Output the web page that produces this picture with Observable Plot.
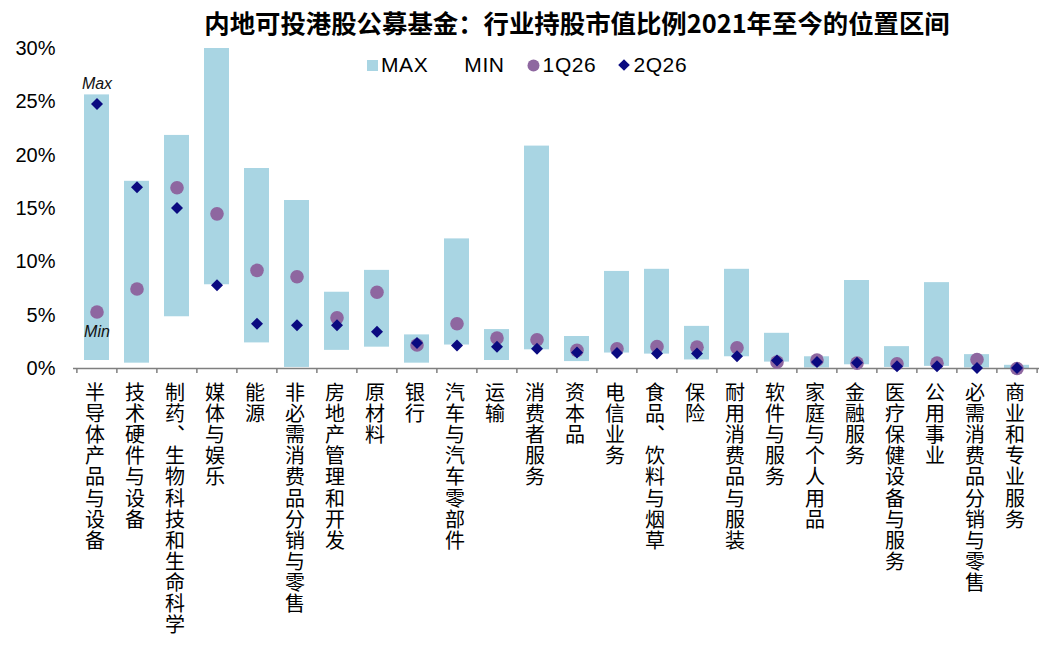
<!DOCTYPE html>
<html>
<head>
<meta charset="utf-8">
<script src="https://cdn.jsdelivr.net/npm/d3@7"></script>
<script src="https://cdn.jsdelivr.net/npm/@observablehq/plot@0.6"></script>
<style>
html,body{margin:0;padding:0;background:#fff;overflow:hidden;}
#wrap{position:relative;width:1061px;height:652px;}
#title{position:absolute;left:577px;top:6px;transform:translateX(-50%);white-space:nowrap;
  font-family:"Noto Sans CJK SC","Liberation Sans",sans-serif;font-weight:bold;font-size:25.4px;line-height:32px;color:#000;}
#legend{position:absolute;left:367px;top:52px;display:flex;align-items:center;white-space:nowrap;
  font-family:"Liberation Sans",Arial,sans-serif;font-size:21px;letter-spacing:0.6px;line-height:26px;color:#000;}
#legend .sw{display:inline-block;width:11px;height:11px;margin-right:3px;}
#legend .gap{display:inline-block;width:22px;}
#legend svg{margin-right:3px;}
#chart{position:absolute;left:0;top:0;}
</style>
</head>
<body>
<div id="wrap">
  <div id="chart"></div>
  <div id="title">内地可投港股公募基金：行业持股市值比例2021年至今的位置区间</div>
  <div id="legend">
    <span class="sw" style="background:#A9D5E3"></span><span>MAX</span>
    <span class="gap"></span><span class="sw" style="background:transparent"></span><span>MIN</span>
    <span class="gap"></span><svg width="13" height="13" viewBox="-6.5 -6.5 13 13"><circle r="6" fill="#8E67A0"></circle></svg><span>1Q26</span>
    <span class="gap"></span><svg width="12" height="12" viewBox="-6 -6 12 12"><path d="M0,-5.8L5.8,0L0,5.8L-5.8,0Z" fill="#0A0A80"></path></svg><span>2Q26</span>
  </div>
</div>
<script>
const categories = ["半导体产品与设备","技术硬件与设备","制药、生物科技和生命科学","媒体与娱乐","能源","非必需消费品分销与零售","房地产管理和开发","原材料","银行","汽车与汽车零部件","运输","消费者服务","资本品","电信业务","食品、饮料与烟草","保险","耐用消费品与服装","软件与服务","家庭与个人用品","金融服务","医疗保健设备与服务","公用事业","必需消费品分销与零售","商业和专业服务"];
const maxValues = [25.65,17.55,21.85,30.0,18.75,15.75,7.15,9.2,3.15,12.15,3.65,20.85,3.0,9.1,9.3,3.95,9.3,3.3,1.1,8.25,2.05,8.05,1.3,0.3];
const minValues = [0.75,0.5,4.85,7.85,2.4,0.1,1.7,2.0,0.5,2.2,0.75,1.75,0.65,1.45,1.35,0.8,1.1,0.6,0.05,0.35,0.1,0.2,0.05,0.0];
const q1Values = [5.3,7.45,16.95,14.5,9.2,8.6,4.75,7.15,2.2,4.2,2.85,2.7,1.7,1.85,2.05,2.0,1.95,0.6,0.8,0.5,0.45,0.5,0.85,0.0];
const q2Values = [24.8,17.0,15.05,7.8,4.2,4.05,4.05,3.45,2.4,2.15,2.05,1.85,1.5,1.45,1.4,1.4,1.15,0.75,0.6,0.55,0.2,0.2,0.05,0.05];
const yTicks = [0,0.05,0.10,0.15,0.20,0.25,0.30];

const W = 1061, H = 652, mL = 73, mR = 22, mT = 48, mB = 284;
const step = (W - mL - mR) / categories.length;
const data = categories.map((c, i) => ({
  cat: c, max: maxValues[i] / 100, min: minValues[i] / 100, q1: q1Values[i] / 100, q2: q2Values[i] / 100
}));
const axisColor = "#7f7f7f";

const chart = Plot.plot({
  width: W, height: H,
  marginLeft: mL, marginRight: mR, marginTop: mT, marginBottom: mB,
  x: {domain: categories, type: "band", paddingInner: 0.38, paddingOuter: 0.19, label: null},
  y: {domain: [0, 0.3], label: null},
  style: {background: "transparent", overflow: "visible"},
  marks: [
    Plot.barY(data, {x: "cat", y1: "min", y2: "max", fill: "#A9D5E3"}),
    Plot.ruleY([0], {stroke: axisColor, strokeWidth: 1.5}),
    Plot.axisX(categories, {tickSize: 5, fill: "none", stroke: axisColor, strokeWidth: 1.5, dx: -step / 2, label: null}),
    Plot.axisX([categories[categories.length - 1]], {tickSize: 5, fill: "none", stroke: axisColor, strokeWidth: 1.5, dx: step / 2, label: null}),
    Plot.axisX({tickSize: 0, tickPadding: 14, dx: -2, fontSize: 20, fontFamily: "Noto Sans CJK SC", fill: "#000", label: null}),
    Plot.axisY({ticks: yTicks, tickFormat: d3.format(".0%"), tickSize: 0, tickPadding: 18,
      fontSize: 20, fontFamily: "Liberation Sans", fill: "#000", label: null}),
    Plot.dot(data, {x: "cat", y: "q1", r: 6.8, fill: "#8E67A0"}),
    Plot.dot(data, {x: "cat", y: "q2", r: 5.4, symbol: "diamond2", fill: "#0A0A80"}),
    Plot.text(["Max"], {x: [categories[0]], y: [maxValues[0] / 100], text: d => d, dy: -11,
      fontSize: 16, fontStyle: "italic", fontFamily: "Liberation Sans", fill: "#111"}),
    Plot.text(["Min"], {x: [categories[0]], y: [minValues[0] / 100], text: d => d, dy: -29,
      fontSize: 16, fontStyle: "italic", fontFamily: "Liberation Sans", fill: "#111"})
  ]
});
// Vertical (upright) CJK category labels
d3.select(chart).selectAll('g[aria-label="x-axis tick label"] text').each(function() {
  this.removeAttribute("y");
  this.setAttribute("text-anchor", "start");
  this.style.writingMode = "vertical-rl";
  this.style.textOrientation = "upright";
  this.style.letterSpacing = "1.1px";
});
document.getElementById("chart").appendChild(chart);
</script>
</body>
</html>
